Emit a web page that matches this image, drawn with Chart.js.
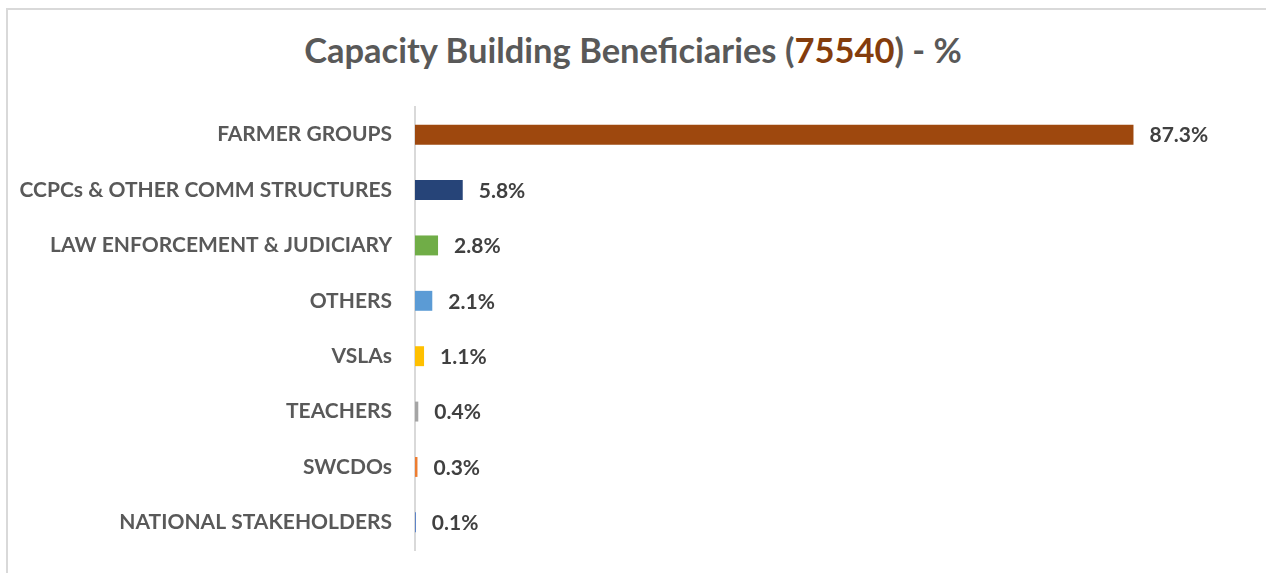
<!DOCTYPE html>
<html>
<head>
<meta charset="utf-8">
<script src="https://cdn.jsdelivr.net/npm/chart.js@4"></script>
<style>
  html, body { margin: 0; padding: 0; background: #ffffff; }
  #wrap { position: relative; width: 1266px; height: 573px; overflow: hidden; }
  #frame { position: absolute; left: 6px; top: 8px; width: 1270px; height: 580px;
           border-left: 2px solid #d9d9d9; border-top: 2px solid #d9d9d9; }
  #title { position: absolute; left: 0; width: 1266px; top: 27px; text-align: center;
           font-family: Lato, "Open Sans", sans-serif; font-weight: bold; font-size: 34.5px;
           color: #595959; line-height: 46px; }
  #title .hl { color: #843c0c; }
  canvas { position: absolute; left: 0; top: 0; }
</style>
</head>
<body>
<div id="wrap">
  <div id="frame"></div>
  <div id="title">Capacity Building Beneficiaries (<span class="hl">75540</span>) - %</div>
  <canvas id="c" width="1266" height="573"></canvas>
</div>
<script>
const categories = ["FARMER GROUPS", "CCPCs & OTHER COMM STRUCTURES", "LAW ENFORCEMENT & JUDICIARY",
  "OTHERS", "VSLAs", "TEACHERS", "SWCDOs", "NATIONAL STAKEHOLDERS"];
const values = [87.3, 5.8, 2.8, 2.1, 1.1, 0.4, 0.3, 0.1];
const barColors = ["#9e480e", "#264478", "#70ad47", "#5b9bd5", "#ffc000", "#a5a5a5", "#ed7d31", "#4472c4"];

const valueLabels = {
  id: 'valueLabels',
  afterDatasetsDraw(chart) {
    const ctx = chart.ctx;
    const meta = chart.getDatasetMeta(0);
    ctx.save();
    ctx.font = 'bold 21px Lato, "Open Sans", sans-serif';
    ctx.fillStyle = '#404040';
    ctx.textAlign = 'left';
    ctx.textBaseline = 'middle';
    meta.data.forEach((bar, i) => {
      ctx.fillText(values[i].toFixed(1) + '%', bar.x + 16, bar.y + 1);
    });
    ctx.restore();
  }
};

new Chart(document.getElementById('c'), {
  type: 'bar',
  data: {
    labels: categories,
    datasets: [{
      data: values,
      backgroundColor: barColors,
      borderWidth: 0,
      barPercentage: 0.72,
      categoryPercentage: 0.5
    }]
  },
  options: {
    indexAxis: 'y',
    responsive: false,
    animation: false,
    devicePixelRatio: 1,
    layout: { padding: { top: 107, bottom: 23, left: 0, right: 28 } },
    plugins: { legend: { display: false }, title: { display: false }, tooltip: { enabled: false } },
    scales: {
      x: { display: false, min: 0, max: 100 },
      y: {
        afterFit(scale) { scale.width = 415; scale.paddingTop = 0; scale.paddingBottom = 0; },
        grid: { display: false, drawTicks: false },
        border: { display: true, color: '#d9d9d9', width: 2 },
        ticks: {
          padding: 23,
          color: '#595959',
          font: { family: 'Lato, "Open Sans", sans-serif', weight: 'bold', size: 21 }
        }
      }
    }
  },
  plugins: [valueLabels]
});
</script>
</body>
</html>
